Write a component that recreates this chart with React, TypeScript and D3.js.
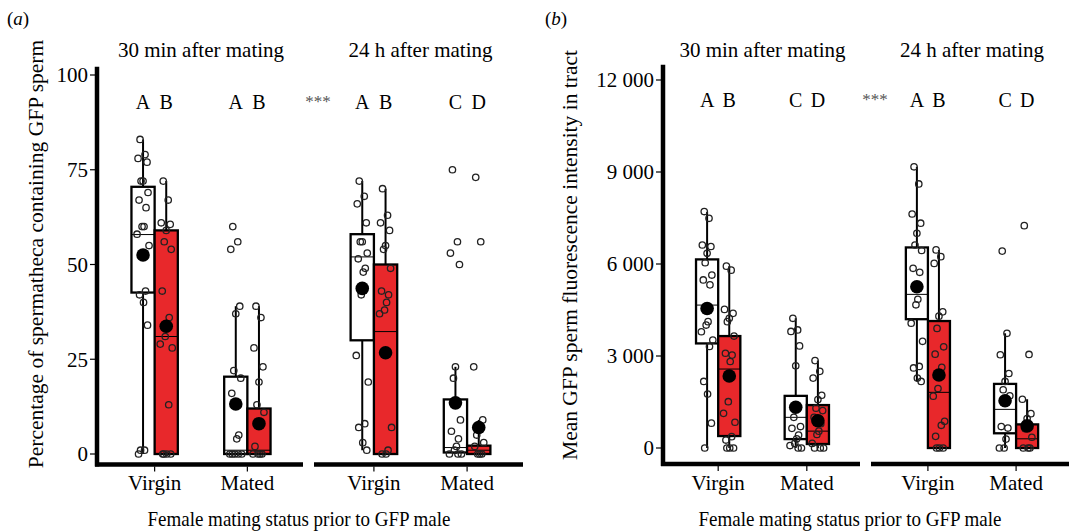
import React from 'react';
import * as d3 from 'd3';

const facetTitles = ['30 min after mating', '24 h after mating'];
const statusLabels = ['Virgin', 'Mated'];
const xTitle = 'Female mating status prior to GFP male';

// (a) percentage of spermatheca containing GFP sperm, one array per box
const pct30VirginWhite = [83, 79, 78, 77, 72, 72, 69, 67, 65, 60, 60, 58, 55, 43, 42, 40, 34, 1, 1, 0];
const pct30VirginRed = [72, 67, 61, 60.6, 59, 56, 54, 43, 36, 34, 31, 29, 28, 13, 0, 0, 0, 0];
const pct30MatedWhite = [60, 56, 54, 39, 37, 22, 20, 16, 5, 4, 0, 0, 0, 0, 0];
const pct30MatedRed = [39, 36, 28, 23, 19, 13, 11, 2, 0, 0, 0, 0];
const pct24VirginWhite = [72, 68, 66, 61, 56, 56, 53, 51.5, 49, 48, 42, 26, 19, 8, 7, 3, 1];
const pct24VirginRed = [70, 63, 61, 59, 55, 54, 49, 43, 42, 40, 38, 37, 7, 1, 0, 0];
const pct24MatedWhite = [75, 56, 53, 50, 23, 20, 9, 6, 4, 2, 1, 0, 0, 0];
const pct24MatedRed = [73, 56, 23, 9, 7, 5, 3, 2, 0, 0, 0];

// box summaries, order: 30V white, 30V red, 30M white, 30M red, 24V white, 24V red, 24M white, 24M red
const pctLow = [0, 0, 0, 0, 1, 0, 0, 0];
const pctQ1 = [42.6, 0, 0, 0, 30, 0, 0.4, 0];
const pctMedian = [57.9, 31, 1, 1, 52, 32.3, 1.7, 1];
const pctQ3 = [70.5, 59, 20.4, 12, 58, 50, 14.4, 2.2];
const pctHigh = [83, 72, 39, 39, 72, 70, 23, 9];
const pctMean = [52.5, 33.7, 13.2, 8, 43.7, 26.7, 13.5, 7];
const pctLetters = ['A', 'B', 'A', 'B', 'A', 'B', 'C', 'D'];
const pctTicks = [0, 25, 50, 75, 100];

// (b) mean GFP sperm fluorescence intensity in tract
const int30VirginWhite = [7710, 7490, 6620, 6570, 6350, 6040, 5640, 5480, 5320, 4120, 4010, 3790, 3520, 3310, 2170, 1760, 810, 0];
const int30VirginRed = [5930, 5800, 4520, 4390, 4230, 4120, 3650, 3090, 3030, 2820, 1510, 1130, 840, 370, 260, 0, 0, 0];
const int30MatedWhite = [4230, 3850, 3800, 3330, 2680, 1000, 700, 640, 420, 300, 150, 80, 0, 0];
const int30MatedRed = [2850, 2500, 2280, 1720, 1580, 1300, 1220, 1000, 790, 550, 440, 150, 0, 0, 0];
const int24VirginWhite = [9170, 8610, 7630, 7330, 7000, 6620, 6440, 5860, 5730, 4850, 4670, 4070, 3480, 2660, 2610, 2280, 2170];
const int24VirginRed = [6460, 6240, 6020, 4440, 4300, 3900, 3300, 3060, 2630, 2430, 1940, 1690, 870, 740, 380, 0, 0, 0];
const int24MatedWhite = [6420, 3740, 3040, 2430, 2170, 1900, 1700, 700, 650, 290, 0, 0];
const int24MatedRed = [7250, 3050, 1590, 1120, 960, 630, 350, 0, 0, 0];

const intLow = [0, 0, 0, 0, 2170, 0, 0, 0];
const intQ1 = [3410, 390, 290, 130, 4200, 0, 480, 0];
const intMedian = [4660, 2575, 1000, 550, 5010, 1815, 1260, 300];
const intQ3 = [6150, 3650, 1700, 1400, 6540, 4140, 2090, 770];
const intHigh = [7700, 5930, 4230, 2850, 9170, 6460, 3740, 1590];
const intMean = [4550, 2350, 1330, 890, 5260, 2380, 1540, 720];
const intLetters = ['A', 'B', 'C', 'D', 'A', 'B', 'C', 'D'];
const intTicks = [0, 3000, 6000, 9000, 12000];

const jitter = [-3, 2, -5, 4, 0, -2, 5, -4, 3, 1, -1, -6, 6, 2.5, -3.5, 0.5, 4.5, -2.5, 1.5, -4.5];
const fills = ['#ffffff', '#e8282b'];
const font = '"Liberation Serif", "Times New Roman", serif';

type PanelProps = {
  tag: string;
  tagX: number;
  yLabel: string;
  yLabelX: number;
  yLabelY: number;
  facets: number[][];
  yDomain: number[];
  yRange: number[];
  yPanel: number[];
  ticks: number[];
  fmt: (v: number) => string;
  points: number[][];
  low: number[];
  q1: number[];
  median: number[];
  q3: number[];
  high: number[];
  mean: number[];
  letters: string[];
  letterY: number;
  titleX: number;
};

function Panel(p: PanelProps) {
  const y = d3.scaleLinear().domain(p.yDomain).range(p.yRange);
  const top = y(p.yPanel[1]);
  const bottom = y(p.yPanel[0]);
  const x0 = p.facets[0][0];
  return (
    <g fontFamily={font}>
      <text x={p.tagX} y={25} fontSize={19}>(<tspan fontStyle="italic">{p.tag}</tspan>)</text>
      <text transform={`translate(${p.yLabelX},${p.yLabelY}) rotate(-90)`} textAnchor="middle" fontSize={21.5}>{p.yLabel}</text>
      {/* y axis */}
      <line x1={x0 - 2} x2={x0 - 2} y1={top} y2={bottom + 2} stroke="#000" strokeWidth={4.5} />
      {p.ticks.map(t => (
        <g key={t}>
          <line x1={x0 - 9} x2={x0 - 2} y1={y(t)} y2={y(t)} stroke="#000" strokeWidth={1.2} />
          <text x={x0 - 11} y={y(t)} dy="0.35em" textAnchor="end" fontSize={21}>{p.fmt(t)}</text>
        </g>
      ))}
      {p.facets.map((rng, fi) => {
        const x = d3.scaleLinear().domain([0.4, 2.6]).range(rng);
        const unit = x(1) - x(0);
        const half = 0.125 * unit;
        return (
          <g key={fi}>
            <text x={(rng[0] + rng[1]) / 2} y={57} textAnchor="middle" fontSize={21}>{facetTitles[fi]}</text>
            <line x1={rng[0] - 4} x2={rng[1]} y1={bottom} y2={bottom} stroke="#000" strokeWidth={4.5} />
            {fi === 1 && (
              <text x={x(0.4)} y={y(p.letterY)} dy="0.3em" textAnchor="middle" fontSize={17} fill="#555">***</text>
            )}
            {statusLabels.map((s, si) => (
              <g key={s}>
                <line x1={x(si + 1)} x2={x(si + 1)} y1={bottom + 2} y2={bottom + 7} stroke="#000" strokeWidth={1.2} />
                <text x={x(si + 1)} y={490} textAnchor="middle" fontSize={21}>{s}</text>
                {[0, 1].map(k => {
                  const gi = fi * 4 + si * 2 + k;
                  const cx = x(si + 1) + (k === 0 ? -half : half);
                  return (
                    <g key={k}>
                      <line x1={cx} x2={cx} y1={y(p.low[gi])} y2={y(p.high[gi])} stroke="#000" strokeWidth={2} />
                      <rect x={cx - half} width={2 * half} y={y(p.q3[gi])} height={Math.max(y(p.q1[gi]) - y(p.q3[gi]), 0)}
                        fill={fills[k]} stroke="#000" strokeWidth={2.3} />
                      <line x1={cx - half} x2={cx + half} y1={y(p.median[gi])} y2={y(p.median[gi])} stroke="#000" strokeWidth={1} />
                      {p.points[gi].map((v, i) => (
                        <circle key={i} cx={cx + jitter[i % jitter.length] * unit / 93} cy={y(v)} r={3.2}
                          fill="none" stroke="#222" strokeWidth={1.3} />
                      ))}
                      <circle cx={cx} cy={y(p.mean[gi])} r={6.8} fill="#000" />
                      <text x={cx} y={y(p.letterY)} dy="0.35em" textAnchor="middle" fontSize={20}>{p.letters[gi]}</text>
                    </g>
                  );
                })}
              </g>
            ))}
          </g>
        );
      })}
      <text x={p.titleX} y={526} textAnchor="middle" fontSize={21} textLength={303} lengthAdjust="spacingAndGlyphs">{xTitle}</text>
    </g>
  );
}

export default function App() {
  const spaceFmt = (v: number) => d3.format(',')(v).replace(/,/g, ' ');
  return (
    <svg width={1069} height={532} style={{ position: 'absolute', left: 0, top: 0, background: '#fff' }}>
      <Panel
        tag="a"
        tagX={7}
        yLabel="Percentage of spermatheca containing GFP sperm"
        yLabelX={43}
        yLabelY={254}
        facets={[[99, 303], [318, 523]]}
        yDomain={[0, 100]}
        yRange={[454, 75]}
        yPanel={[-2.8, 102.2]}
        ticks={pctTicks}
        fmt={v => String(v)}
        points={[pct30VirginWhite, pct30VirginRed, pct30MatedWhite, pct30MatedRed, pct24VirginWhite, pct24VirginRed, pct24MatedWhite, pct24MatedRed]}
        low={pctLow} q1={pctQ1} median={pctMedian} q3={pctQ3} high={pctHigh} mean={pctMean}
        letters={pctLetters}
        letterY={93}
        titleX={299}
      />
      <Panel
        tag="b"
        tagX={545}
        yLabel="Mean GFP sperm fluorescence intensity in tract"
        yLabelX={577}
        yLabelY={255}
        facets={[[665, 860], [875, 1069]]}
        yDomain={[0, 12000]}
        yRange={[448, 80]}
        yPanel={[-520, 12500]}
        ticks={intTicks}
        fmt={spaceFmt}
        points={[int30VirginWhite, int30VirginRed, int30MatedWhite, int30MatedRed, int24VirginWhite, int24VirginRed, int24MatedWhite, int24MatedRed]}
        low={intLow} q1={intQ1} median={intMedian} q3={intQ3} high={intHigh} mean={intMean}
        letters={intLetters}
        letterY={11350}
        titleX={850}
      />
    </svg>
  );
}
